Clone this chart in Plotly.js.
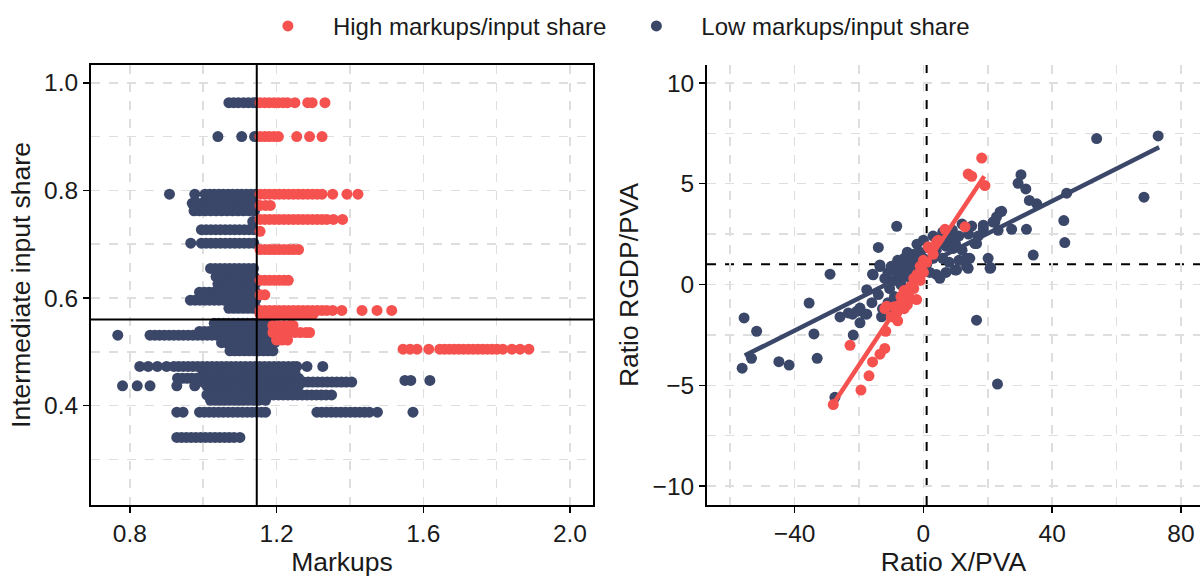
<!DOCTYPE html>
<html>
<head>
<meta charset="utf-8">
<script src="https://cdn.plot.ly/plotly-3.0.1.min.js"></script>
<style>html,body{margin:0;padding:0;background:#fff;}#chart{width:1204px;height:577px;}</style>
</head>
<body>
<div id="chart"></div>
<script>
// ---------- Left panel: Markups vs Intermediate input share ----------
// Low markups/input share rows: share value and the markup values on that row
const lowShare = [0.963, 0.900, 0.793, 0.776, 0.762, 0.742, 0.727, 0.702, 0.655, 0.640, 0.626, 0.611, 0.596, 0.581,
  0.553, 0.538, 0.531, 0.517, 0.502, 0.473, 0.462, 0.451, 0.444, 0.447, 0.437, 0.426, 0.420, 0.410, 0.388, 0.341];
const lowMarkups = [
  [1.07,1.083,1.096,1.11,1.123,1.136,1.144],
  [1.04,1.105,1.14],
  [0.908,0.977,1.005,1.018,1.03,1.043,1.055,1.068,1.08,1.093,1.105,1.118,1.13,1.142],
  [0.97,0.983,0.996,1.009,1.022,1.035,1.048,1.061,1.074,1.087,1.1,1.113,1.126,1.139],
  [0.975,0.99,1.005,1.02,1.035,1.05,1.065,1.08,1.095,1.11,1.125,1.14],
  [1.135],
  [0.995,1.008,1.021,1.034,1.047,1.06,1.073,1.086,1.099,1.112,1.125,1.138],
  [0.966,0.995,1.008,1.021,1.034,1.047,1.06,1.073,1.086,1.099,1.112,1.125,1.138],
  [1.02,1.033,1.046,1.059,1.072,1.085,1.098,1.111,1.124,1.137],
  [1.035,1.048,1.061,1.074,1.087,1.1,1.113,1.126,1.139],
  [1.04,1.053,1.066,1.079,1.092,1.105,1.118,1.131,1.142],
  [0.99,1.003,1.016,1.029,1.042,1.055,1.068,1.081,1.094,1.107,1.12,1.133,1.143],
  [0.965,0.978,0.991,1.004,1.017,1.03,1.043,1.056,1.069,1.082,1.095,1.108,1.121,1.134,1.143],
  [1.07,1.083,1.096,1.109,1.122,1.135,1.144],
  [1.03,1.043,1.056,1.069,1.082,1.095,1.108,1.121,1.134,1.147,1.16,1.173,1.185],
  [0.99,1.003,1.016,1.029,1.042,1.055,1.068,1.081,1.094,1.107,1.12,1.133,1.146,1.159,1.172,1.187],
  [0.767,0.855,0.868,0.881,0.894,0.907,0.92,0.933,0.946,0.959,0.972,0.985,0.998,1.011,1.024,1.037,1.05,1.063,1.076,1.089,1.102,1.115,1.128,1.141,1.154,1.167,1.18,1.195],
  [1.05,1.063,1.076,1.089,1.102,1.115,1.128,1.141,1.154,1.167,1.18,1.195],
  [1.073,1.086,1.099,1.112,1.125,1.138,1.151,1.164,1.177,1.19],
  [0.827,0.85,0.875,0.9,0.92,0.933,0.946,0.959,0.972,0.985,0.998,1.011,1.024,1.037,1.05,1.063,1.076,1.089,1.102,1.115,1.128,1.141,1.154,1.167,1.18,1.193,1.206,1.219,1.232,1.245,1.255,1.283,1.326],
  [1.0,1.013,1.026,1.039,1.052,1.065,1.078,1.091,1.104,1.117,1.13,1.143,1.156,1.169,1.182,1.195,1.208,1.221,1.234,1.25],
  [0.93,0.943,0.956,0.969,0.982,0.995,1.008,1.021,1.034,1.047,1.06,1.073,1.086,1.099,1.112,1.125,1.138,1.151,1.164,1.177,1.19,1.203,1.216,1.229,1.242,1.26],
  [1.0,1.013,1.026,1.039,1.052,1.065,1.078,1.091,1.104,1.117,1.13,1.143,1.156,1.169,1.182,1.195,1.208,1.221,1.234,1.247,1.26,1.273,1.286,1.299,1.312,1.325,1.338,1.351,1.364,1.377,1.39,1.405],
  [1.55,1.566,1.618],
  [0.78,0.82,0.855,0.928,0.977,1.01,1.023,1.036,1.049,1.062,1.075,1.088,1.101,1.114,1.127,1.14,1.153,1.166,1.179,1.192,1.205,1.218,1.231,1.244,1.26],
  [1.02,1.033,1.046,1.059,1.072,1.085,1.098,1.111,1.124,1.137,1.15,1.163,1.176,1.189,1.202,1.215,1.228,1.25],
  [1.01,1.023,1.036,1.049,1.062,1.075,1.088,1.101,1.114,1.127,1.14,1.153,1.166,1.179,1.192,1.205,1.218,1.231,1.244,1.257,1.27,1.283,1.296,1.309,1.322,1.335,1.35],
  [1.02,1.033,1.046,1.059,1.072,1.085,1.098,1.111,1.124,1.137,1.15,1.17],
  [0.928,0.945,0.99,1.003,1.016,1.029,1.042,1.055,1.068,1.081,1.094,1.107,1.12,1.133,1.146,1.159,1.17,1.31,1.323,1.336,1.349,1.362,1.375,1.388,1.401,1.414,1.427,1.44,1.453,1.475,1.572],
  [0.928,0.941,0.954,0.967,0.98,0.993,1.006,1.019,1.032,1.045,1.058,1.071,1.084,1.1]
];
// High markups/input share rows
const highShare = [0.963, 0.900, 0.793, 0.772, 0.746, 0.724, 0.690, 0.633, 0.606, 0.577, 0.570, 0.549, 0.536, 0.522, 0.505];
const highMarkups = [
  [1.155,1.168,1.18,1.193,1.205,1.218,1.23,1.25,1.285,1.297,1.332],
  [1.155,1.168,1.18,1.193,1.205,1.255,1.29,1.324],
  [1.155,1.168,1.181,1.194,1.207,1.22,1.233,1.246,1.259,1.272,1.285,1.298,1.311,1.324,1.353,1.392,1.422],
  [1.155,1.17,1.183],
  [1.155,1.168,1.181,1.194,1.207,1.22,1.233,1.246,1.259,1.272,1.285,1.298,1.311,1.324,1.337,1.355,1.38],
  [1.155],
  [1.155,1.168,1.181,1.194,1.207,1.22,1.233,1.246,1.26],
  [1.155,1.168,1.181,1.194,1.207,1.22,1.232],
  [1.155,1.168],
  [1.155,1.168,1.181,1.194,1.207,1.22,1.233,1.246,1.259,1.272,1.285,1.298,1.311,1.324,1.337,1.353,1.378,1.433,1.474,1.514],
  [1.155,1.168,1.181,1.194,1.207,1.22,1.233,1.246,1.259,1.272,1.285,1.3],
  [1.19,1.205,1.22,1.235,1.245],
  [1.19,1.205,1.22,1.235,1.25,1.265,1.28,1.29],
  [1.2,1.215,1.23],
  [1.545,1.564,1.583,1.615,1.645,1.658,1.671,1.684,1.697,1.71,1.723,1.736,1.749,1.762,1.775,1.788,1.801,1.817,1.842,1.864,1.888]
];
const markupCut = 1.146;   // vertical reference line
const shareCut = 0.56;     // horizontal reference line

// ---------- Right panel: Ratio X/PVA vs Ratio RGDP/PVA ----------
const lowRatioX = [-56.3,-55.7,-53.4,-51.8,-44.9,-41.7,-35.5,-34.0,-33.0,-29.0,-27.5,-25.9,-23.3,-21.8,-22.0,-20.7,-19.7,-19.7,-18.2,-17.6,-17.6,-15.8,-15.6,-14.0,-13.5,-13.5,-12.7,-8.3,
  -16,-14,-13,-12,-11,-11,-10.5,-10,-10,-9,-9,-8,-8,-7,-7,-6,-6,-5,-5,-4,-4,-3,-3,-2,-2,-1,-1,0,0,1,2,2,3,3,4,4,5,6,6,7,7,8,8,9,10,11,11,12,12,14,15,17,
  5.1,9.3,9.8,10.3,13.4,13.4,13.9,14.4,16.0,16.5,16.5,18.6,18.6,20.1,20.7,20.9,21.6,22.2,22.7,23.2,23.8,24.3,23.0,27.4,29.4,30.3,31.8,32.0,32.9,34.1,35.2,43.6,43.9,44.5,53.8,68.5,72.9];
const lowRatioRGDP = [-4.15,-1.66,-3.66,-2.32,-3.83,-4.0,-0.92,-2.45,-3.66,0.51,-5.6,-1.61,-1.41,-2.51,-1.47,-1.33,-1.9,-1.17,-1.46,-0.26,-1.47,0.51,0.48,1.84,0.89,0.97,-1.2,2.89,
  -0.9,-0.5,-1.6,0.3,0.6,-0.9,-0.2,0.9,-1.3,0.2,-0.6,0.6,1.2,0.0,0.9,1.3,0.4,0.8,1.6,1.1,0.3,1.5,0.7,1.2,2.0,1.6,0.6,1.3,2.2,1.0,1.8,0.6,1.3,2.4,1.7,0.5,2.1,1.3,2.6,1.9,0.6,2.3,1.1,2.7,2.0,2.4,1.2,1.7,3.0,2.5,2.9,2.4,
  0.31,1.79,0.72,0.72,1.3,0.89,0.8,1.3,2.03,2.03,-1.77,2.77,2.94,1.3,0.8,0.84,3.1,3.1,3.35,2.69,3.6,3.63,-4.94,2.74,5.02,5.45,4.74,2.74,4.17,1.46,4.0,3.17,2.08,4.53,7.24,4.33,7.37];
const highRatioX = [-28,-22.8,-19.4,-16.9,-15.8,-13.5,-12,-11.7,-12,-11.4,-10,-9,-8.3,-8,-7.3,-7,-6,-6,-5,-5,-4,-4,-3,-3,-2.1,-2,-1,-1,0,0,1,1.5,2.0,3,4.1,4.6,6.7,12.9,13.9,15,18.1,19.1];
const highRatioRGDP = [-5.96,-3.02,-5.24,-4.53,-3.84,-3.46,-3.17,-2.32,-1.2,-1.08,-1.6,-1.1,-1.41,-1.8,-1.0,-0.6,-1.2,-0.3,-0.5,-1.0,-0.1,-0.7,-0.2,0.3,-0.75,0.5,0.2,0.9,0.6,1.2,1.1,1.87,1.79,1.5,2.12,2.2,2.74,2.86,5.48,5.37,6.27,4.91];
// Linear fits: [intercept, slope, xmin, xmax]
const lowFit = [0.93, 0.0803, -55.5, 73.2];
const highFit = [0.82, 0.241, -27.6, 18.9];
const ratioXCut = 1;
const ratioYCut = 1;

// ---------- build ----------
const RED = '#F5524F', NAVY = '#3B4769';
function flatten(shares, rows) {
  const xs = [], ys = [];
  rows.forEach((r, i) => r.forEach(v => { xs.push(v); ys.push(shares[i]); }));
  return {x: xs, y: ys};
}
const lowL = flatten(lowShare, lowMarkups);
const highL = flatten(highShare, highMarkups);
function fitLine(f) { return {x: [f[2], f[3]], y: [f[0] + f[1]*f[2], f[0] + f[1]*f[3]]}; }
const lf = fitLine(lowFit), hf = fitLine(highFit);

const MS = 11;
const traces = [
  {type:'scatter', mode:'markers', x: lowL.x, y: lowL.y, xaxis:'x', yaxis:'y', name:'Low markups/input share', legendgroup:'low', legendrank:2,
   marker:{color:NAVY, size:MS}, showlegend:true},
  {type:'scatter', mode:'markers', x: highL.x, y: highL.y, xaxis:'x', yaxis:'y', name:'High markups/input share', legendgroup:'high', legendrank:1,
   marker:{color:RED, size:MS}, showlegend:true},
  {type:'scatter', mode:'markers', x: lowRatioX, y: lowRatioRGDP, xaxis:'x2', yaxis:'y2', legendgroup:'low', showlegend:false,
   marker:{color:NAVY, size:MS}},
  {type:'scatter', mode:'lines', x: lf.x, y: lf.y, xaxis:'x2', yaxis:'y2', showlegend:false, line:{color:NAVY, width:4.5}},
  {type:'scatter', mode:'markers', x: highRatioX, y: highRatioRGDP, xaxis:'x2', yaxis:'y2', legendgroup:'high', showlegend:false,
   marker:{color:RED, size:MS}},
  {type:'scatter', mode:'lines', x: hf.x, y: hf.y, xaxis:'x2', yaxis:'y2', showlegend:false, line:{color:RED, width:4.5}}
];

const GRID = '#dedede';
const FONT = 'Liberation Sans, Arial, sans-serif';
function axis(extra) {
  return Object.assign({
    showgrid:true, gridcolor:GRID, gridwidth:1.5, griddash:'dash', zeroline:false,
    ticks:'outside', ticklen:6, tickwidth:1.5, tickcolor:'#000',
    tickfont:{family:FONT, size:24.5, color:'#1a1a1a'},
    showline:true, linecolor:'#000', linewidth:2, automargin:false
  }, extra);
}
const minor = (vals) => ({tickvals: vals, showgrid:true, gridcolor:GRID, gridwidth:1.5, griddash:'dash', ticks:''});
const TFONT = {family:FONT, size:26.5, color:'#1a1a1a'};

const layout = {
  width:1204, height:577, paper_bgcolor:'#fff', plot_bgcolor:'#fff',
  margin:{l:91, r:4, t:62, b:72},
  font:{family:FONT, color:'#1a1a1a'},
  showlegend:true,
  legend:{orientation:'h', x:0.467, xanchor:'center', y:1.139, yanchor:'top', font:{family:FONT, size:24, color:'#1a1a1a'},
          traceorder:'normal', itemwidth:80, borderwidth:0},
  xaxis: axis({domain:[0,0.4527], range:[0.694,2.063], tickvals:[0.8,1.2,1.6,2.0], ticktext:['0.8','1.2','1.6','2.0'],
    minor: minor([1.0,1.4,1.8]), mirror:true, anchor:'y',
    title:{text:'Markups', font:TFONT, standoff:4}}),
  yaxis: axis({domain:[0,1], range:[0.2155,1.033], tickvals:[0.4,0.6,0.8,1.0], ticktext:['0.4','0.6','0.8','1.0'],
    minor: minor([0.3,0.5,0.7,0.9]), mirror:true, anchor:'x',
    title:{text:'Intermediate input share', font:TFONT, standoff:6}}),
  xaxis2: axis({domain:[0.5555,1], range:[-67.2,85.9], tickvals:[-40,0,40,80], ticktext:['\u221240','0','40','80'],
    minor: minor([-60,-20,20,60]), anchor:'y2',
    title:{text:'Ratio X/PVA', font:TFONT, standoff:4}}),
  yaxis2: axis({domain:[0,1], range:[-10.94,10.89], tickvals:[-10,-5,0,5,10], ticktext:['\u221210','\u22125','0','5','10'],
    minor: minor([-7.5,-2.5,2.5,7.5]), anchor:'x2',
    title:{text:'Ratio RGDP/PVA', font:TFONT, standoff:6}}),
  shapes:[
    {type:'line', xref:'x', yref:'y domain', x0:markupCut, x1:markupCut, y0:0, y1:1, line:{color:'#000', width:2}, layer:'above'},
    {type:'line', xref:'x domain', yref:'y', x0:0, x1:1, y0:shareCut, y1:shareCut, line:{color:'#000', width:2}, layer:'above'},
    {type:'line', xref:'x2', yref:'y2 domain', x0:ratioXCut, x1:ratioXCut, y0:0, y1:1, line:{color:'#000', width:2, dash:'dash'}, layer:'below'},
    {type:'line', xref:'x2 domain', yref:'y2', x0:0, x1:1, y0:ratioYCut, y1:ratioYCut, line:{color:'#000', width:2, dash:'dash'}, layer:'below'}
  ]
};
Plotly.newPlot('chart', traces, layout, {displayModeBar:false, staticPlot:true});
</script>
</body>
</html>
